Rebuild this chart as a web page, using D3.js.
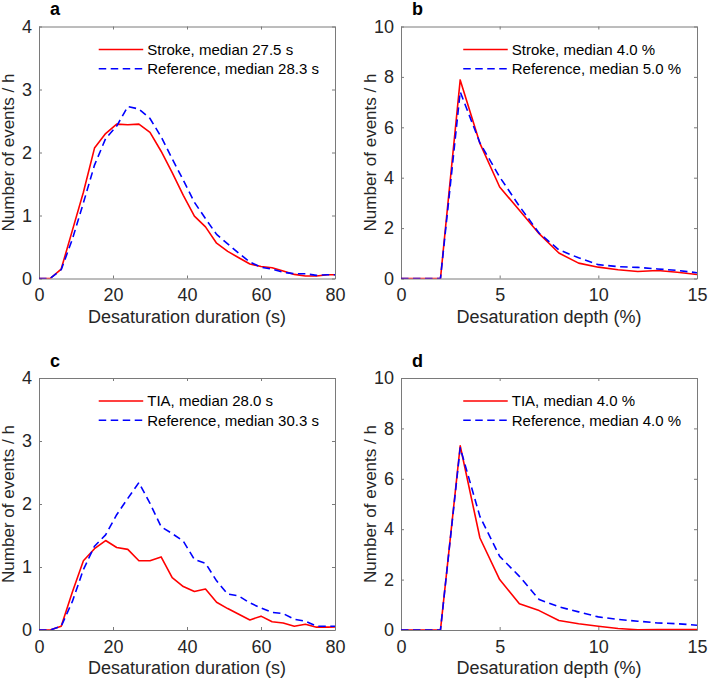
<!DOCTYPE html>
<html>
<head>
<meta charset="utf-8">
<script src="https://cdn.jsdelivr.net/npm/d3@7"></script>
<style>
  body { margin: 0; background: #fff; }
  svg { font-family: "Liberation Sans", Arial, sans-serif; }
</style>
</head>
<body>
<div id="chart-area"></div>
<script>
// data
const durX = [0, 3, 6, 9, 12, 15, 18, 21, 24, 27, 30, 33, 36, 39, 42, 45, 48, 51, 54, 57, 60, 63, 66, 69, 72, 75, 78, 81]
const strokeDur = [0, 0, 0.15, 0.76, 1.37, 2.07, 2.30, 2.45, 2.44, 2.45, 2.32, 2.02, 1.68, 1.32, 0.99, 0.82, 0.56, 0.43, 0.33, 0.23, 0.19, 0.17, 0.12, 0.065, 0.04, 0.04, 0.06, 0.06]
const refDurA = [0, 0, 0.14, 0.62, 1.2, 1.8, 2.22, 2.42, 2.73, 2.69, 2.54, 2.25, 1.9, 1.56, 1.21, 0.95, 0.70, 0.55, 0.40, 0.26, 0.18, 0.15, 0.10, 0.075, 0.075, 0.05, 0.06, 0.06]
const tiaDur = [0, 0, 0.06, 0.6, 1.10, 1.29, 1.42, 1.31, 1.28, 1.10, 1.10, 1.16, 0.83, 0.69, 0.61, 0.65, 0.44, 0.34, 0.25, 0.16, 0.22, 0.13, 0.11, 0.06, 0.09, 0.045, 0.045, 0.05]
const refDurC = [0, 0, 0.06, 0.45, 0.96, 1.33, 1.51, 1.83, 2.09, 2.34, 2.01, 1.64, 1.53, 1.41, 1.12, 1.06, 0.78, 0.57, 0.54, 0.43, 0.35, 0.28, 0.26, 0.17, 0.14, 0.06, 0.06, 0.06]

const depthX = [0, 1, 2, 3, 4, 5, 6, 7, 8, 9, 10, 11, 12, 13, 14, 15]
const strokeDepth = [0, 0, 0, 7.88, 5.36, 3.63, 2.71, 1.78, 1.01, 0.61, 0.45, 0.35, 0.28, 0.32, 0.25, 0.16]
const refDepthB = [0, 0, 0, 7.41, 5.38, 4.03, 2.87, 1.80, 1.14, 0.82, 0.55, 0.47, 0.44, 0.38, 0.32, 0.23]
const tiaDepth = [0, 0, 0, 7.31, 3.65, 2.0, 1.04, 0.77, 0.38, 0.25, 0.15, 0.06, 0.01, 0.02, 0.02, 0.02]
const refDepthD = [0, 0, 0, 7.23, 4.50, 2.92, 2.13, 1.21, 0.92, 0.72, 0.52, 0.42, 0.35, 0.28, 0.25, 0.19]

const durTicks = [0, 20, 40, 60, 80]
const depthTicks = [0, 5, 10, 15]
const durYTicks = [0, 1, 2, 3, 4]
const depthYTicks = [0, 2, 4, 6, 8, 10]

const panelLetters = ["a", "b", "c", "d"]
const legendA = ["Stroke, median 27.5 s", "Reference, median 28.3 s"]
const legendB = ["Stroke, median 4.0 %", "Reference, median 5.0 %"]
const legendC = ["TIA, median 28.0 s", "Reference, median 30.3 s"]
const legendD = ["TIA, median 4.0 %", "Reference, median 4.0 %"]

const WIDTH = 708
const HEIGHT = 681
const PLOT_W = 296
const PLOT_H = 252
const LEFTS = [39, 401]
const TOPS = [26.5, 378]

const AXIS_COLOR = "#7a7a7a"
const TEXT_COLOR = "#262626"

const svg = d3.select("#chart-area").append("svg")
  .attr("width", WIDTH)
  .attr("height", HEIGHT)

const panels = [
  { col: 0, row: 0, xs: durX, series: [strokeDur, refDurA], xDomain: [0, 80], yDomain: [0, 4], xTicks: durTicks, yTicks: durYTicks, legend: legendA, xLabel: "Desaturation duration (s)" },
  { col: 1, row: 0, xs: depthX, series: [strokeDepth, refDepthB], xDomain: [0, 15], yDomain: [0, 10], xTicks: depthTicks, yTicks: depthYTicks, legend: legendB, xLabel: "Desaturation depth (%)" },
  { col: 0, row: 1, xs: durX, series: [tiaDur, refDurC], xDomain: [0, 80], yDomain: [0, 4], xTicks: durTicks, yTicks: durYTicks, legend: legendC, xLabel: "Desaturation duration (s)" },
  { col: 1, row: 1, xs: depthX, series: [tiaDepth, refDepthD], xDomain: [0, 15], yDomain: [0, 10], xTicks: depthTicks, yTicks: depthYTicks, legend: legendD, xLabel: "Desaturation depth (%)" }
]

const lineStyles = [
  { color: "#ff0000", dash: null },
  { color: "#0000ff", dash: "7.5,4.5" }
]

const fmt = d3.format("d")

panels.forEach((p, i) => {
  const left = LEFTS[p.col]
  const top = TOPS[p.row]
  const g = svg.append("g")
    .attr("transform", `translate(${left}, ${top})`)

  const x = d3.scaleLinear().domain(p.xDomain).range([0, PLOT_W])
  const y = d3.scaleLinear().domain(p.yDomain).range([PLOT_H, 0])

  // clip so the last bin runs off the right edge like the original
  g.append("clipPath")
    .attr("id", `clip-${i}`)
    .append("rect")
    .attr("width", PLOT_W)
    .attr("height", PLOT_H)

  // axes: inward ticks on all four sides (box on)
  const tickLen = 3
  const bottom = g.append("g")
    .attr("transform", `translate(0, ${PLOT_H})`)
    .call(d3.axisBottom(x).tickValues(p.xTicks).tickFormat(fmt).tickSizeInner(-tickLen).tickSizeOuter(0).tickPadding(10))
  const topAx = g.append("g")
    .call(d3.axisTop(x).tickValues(p.xTicks).tickSizeInner(-tickLen).tickSizeOuter(0).tickFormat(""))
  const leftAx = g.append("g")
    .call(d3.axisLeft(y).tickValues(p.yTicks).tickFormat(fmt).tickSizeInner(-tickLen).tickSizeOuter(0).tickPadding(7))
  const rightAx = g.append("g")
    .attr("transform", `translate(${PLOT_W}, 0)`)
    .call(d3.axisRight(y).tickValues(p.yTicks).tickSizeInner(-tickLen).tickSizeOuter(0).tickFormat(""))

  ;[bottom, topAx, leftAx, rightAx].forEach(ax => {
    ax.selectAll("path").attr("stroke", AXIS_COLOR).attr("stroke-width", 1)
    ax.selectAll("line").attr("stroke", AXIS_COLOR).attr("stroke-width", 1)
    ax.selectAll("text")
      .attr("fill", TEXT_COLOR)
      .attr("font-size", "18px")
      .attr("font-family", "Liberation Sans, Arial, sans-serif")
  })
  bottom.selectAll("text").attr("dy", "0.71em")

  // data lines
  const line = d3.line()
    .x((d, k) => x(p.xs[k]))
    .y(d => y(d))

  const lines = g.append("g").attr("clip-path", `url(#clip-${i})`)
  p.series.forEach((s, k) => {
    lines.append("path")
      .datum(s)
      .attr("fill", "none")
      .attr("stroke", lineStyles[k].color)
      .attr("stroke-width", 1.6)
      .attr("stroke-dasharray", lineStyles[k].dash)
      .attr("stroke-linejoin", "round")
      .attr("d", line)
  })

  // labels
  g.append("text")
    .attr("x", PLOT_W / 2)
    .attr("y", PLOT_H + 44)
    .attr("text-anchor", "middle")
    .attr("font-size", "18px")
    .attr("fill", TEXT_COLOR)
    .text(p.xLabel)

  g.append("text")
    .attr("transform", "rotate(-90)")
    .attr("x", -PLOT_H / 2)
    .attr("y", -25)
    .attr("text-anchor", "middle")
    .attr("font-size", "17px")
    .attr("fill", TEXT_COLOR)
    .text("Number of events / h")

  g.append("text")
    .attr("x", 11)
    .attr("y", -11.5)
    .attr("font-size", "18px")
    .attr("font-weight", "bold")
    .attr("fill", "#000")
    .text(panelLetters[i])

  // legend, right aligned inside the box
  const legend = g.append("g")
  const labels = p.legend.map((txt, k) => legend.append("text")
    .attr("y", 23 + k * 19.3)
    .attr("dy", "0.35em")
    .attr("font-size", "15px")
    .attr("fill", "#000")
    .text(txt))
  const maxW = d3.max(labels, t => t.node().getComputedTextLength())
  const textX = PLOT_W - 16 - maxW
  labels.forEach((t, k) => {
    t.attr("x", textX)
    legend.append("line")
      .attr("x1", textX - 48.5)
      .attr("x2", textX - 4)
      .attr("y1", 23 + k * 19.3)
      .attr("y2", 23 + k * 19.3)
      .attr("stroke", lineStyles[k].color)
      .attr("stroke-width", 1.6)
      .attr("stroke-dasharray", lineStyles[k].dash)
  })
})
</script>
</body>
</html>
